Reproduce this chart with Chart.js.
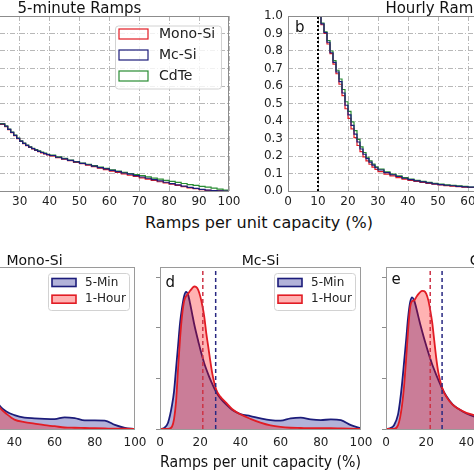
<!DOCTYPE html>
<html><head><meta charset="utf-8">
<script src="https://cdn.jsdelivr.net/npm/chart.js@4.4.1/dist/chart.umd.min.js"></script>
<style>
html,body{margin:0;padding:0;width:474px;height:474px;overflow:hidden;background:#fff;position:relative;font-family:'DejaVu Sans';}
canvas{position:absolute;}
#xlabTop{position:absolute;left:259px;top:215px;transform:translateX(-50%);font:16px/16px 'DejaVu Sans';color:#111;white-space:nowrap;}
</style></head>
<body>
<div id="xlabTop">Ramps per unit capacity (%)</div>
<script>
// ---------- DATA ----------
const seriesNames = ['Mono-Si', 'Mc-Si', 'CdTe'];
const kdeNames = ['5-Min', '1-Hour'];
const xAxisLabel = 'Ramps per unit capacity (%)';

// Top left: 5-minute ramps, exceedance (step) curves
const ramp5X = [2,4,6,8,10,12,14,16,18,20,22,23,24,25,26,27,28,29,30,31,32,33,34,35,36,37,38,39,40,42,44,46,48,50,52,54,56,58,60,62,64,66,68,70,72,74,76,78,80,82,84,86,88,90,92,94,96,98,100];
const monoSi5 = [1.0,0.93,0.84,0.76,0.69,0.62,0.56,0.51,0.47,0.43,0.40,0.381,0.381,0.368,0.35,0.333,0.316,0.299,0.283,0.27,0.259,0.249,0.24,0.232,0.225,0.218,0.212,0.206,0.201,0.191,0.182,0.173,0.164,0.156,0.148,0.139,0.131,0.122,0.113,0.106,0.098,0.09,0.083,0.075,0.068,0.061,0.053,0.046,0.039,0.032,0.025,0.018,0.013,0.008,0.004,0.002,0.001,0,0];
const mcSi5   = [1.0,0.93,0.84,0.76,0.69,0.62,0.56,0.51,0.47,0.43,0.40,0.383,0.383,0.37,0.352,0.335,0.318,0.301,0.285,0.272,0.261,0.251,0.242,0.234,0.227,0.22,0.214,0.208,0.203,0.193,0.184,0.175,0.166,0.158,0.15,0.142,0.134,0.126,0.118,0.111,0.103,0.096,0.088,0.08,0.073,0.065,0.058,0.05,0.042,0.035,0.028,0.021,0.015,0.009,0.005,0.002,0.0005,0,0];
const cdTe5   = [1.0,0.93,0.845,0.765,0.695,0.625,0.565,0.515,0.475,0.435,0.405,0.385,0.385,0.372,0.354,0.337,0.32,0.303,0.287,0.274,0.263,0.253,0.244,0.236,0.229,0.222,0.216,0.21,0.205,0.195,0.186,0.177,0.168,0.16,0.153,0.145,0.137,0.129,0.121,0.114,0.107,0.1,0.094,0.088,0.081,0.074,0.068,0.061,0.055,0.049,0.043,0.037,0.032,0.027,0.022,0.016,0.011,0.005,0];

// Top right: hourly ramps
const rampHX = [10,11,12,13,14,15,16,17,18,19,20,21,22,23,24,25,26,27,28,29,30,32,34,36,38,40,42,44,46,48,50,52,54,56,58,60,65,70,75,80,85,90,95,100];
const monoSiH = [1.0,0.95,0.9,0.84,0.785,0.725,0.67,0.61,0.545,0.47,0.415,0.355,0.305,0.26,0.225,0.195,0.172,0.153,0.137,0.123,0.111,0.097,0.086,0.077,0.068,0.061,0.055,0.049,0.044,0.039,0.035,0.031,0.028,0.025,0.022,0.02,0.016,0.012,0.009,0.007,0.005,0.003,0.001,0];
const mcSiH   = [1.0,0.955,0.905,0.85,0.79,0.735,0.68,0.625,0.56,0.49,0.435,0.375,0.325,0.28,0.24,0.21,0.185,0.165,0.148,0.133,0.12,0.105,0.093,0.083,0.073,0.065,0.058,0.052,0.046,0.041,0.037,0.033,0.03,0.027,0.024,0.022,0.017,0.013,0.01,0.008,0.006,0.004,0.002,0];
const cdTeH   = [1.0,0.96,0.91,0.86,0.80,0.745,0.69,0.64,0.58,0.51,0.455,0.395,0.345,0.295,0.252,0.22,0.193,0.172,0.154,0.138,0.125,0.109,0.097,0.087,0.077,0.068,0.061,0.055,0.049,0.044,0.039,0.035,0.032,0.029,0.026,0.023,0.018,0.014,0.011,0.009,0.007,0.004,0.002,0];
const hourlyThreshold = 10;

// Bottom: density curves
const kdeX = [0,2,4,6,7,8,9,10,11,12,13,14,15,16,17,18,19,20,21,22,23,24,25,26,28,30,33,36,40,45,50,55,60,65,70,75,80,85,90,95,100];
const monoSi5Min  = [0,0.0004,0.0026,0.0097,0.0152,0.0242,0.0332,0.042,0.048,0.0523,0.054,0.0528,0.0494,0.0455,0.0416,0.0382,0.035,0.032,0.029,0.0263,0.024,0.0219,0.02,0.0182,0.015,0.0125,0.0089,0.0069,0.0055,0.0045,0.0042,0.004,0.0039,0.0046,0.0043,0.0034,0.0034,0.0033,0.0016,0.0004,0];
const monoSi1Hour = [0,0,0,0.001,0.004,0.011,0.024,0.036,0.045,0.0505,0.0525,0.0535,0.0546,0.0556,0.0562,0.056,0.0548,0.0522,0.0487,0.044,0.0378,0.032,0.0265,0.0215,0.0148,0.0118,0.0082,0.006,0.0037,0.0027,0.0021,0.0015,0.0011,0.0006,0.0005,0.0004,0.0003,0.0002,0.0001,0.0001,0];
const mcSi5Min    = [0,0.0004,0.0025,0.0095,0.015,0.024,0.033,0.042,0.048,0.0525,0.0542,0.053,0.0495,0.0455,0.0415,0.038,0.0348,0.0316,0.0287,0.026,0.0237,0.0216,0.0196,0.0178,0.0145,0.0122,0.0096,0.0075,0.0059,0.0051,0.0042,0.0035,0.0033,0.0042,0.0045,0.0038,0.0035,0.0038,0.0035,0.0015,0.0002];
const mcSi1Hour   = [0,0,0,0.001,0.004,0.011,0.024,0.036,0.045,0.0505,0.0525,0.0535,0.0546,0.0556,0.0563,0.0561,0.055,0.0525,0.049,0.0445,0.038,0.0325,0.027,0.022,0.0155,0.0128,0.0103,0.0078,0.0058,0.004,0.0025,0.0014,0.0008,0.0005,0.0004,0.0003,0.0003,0.0003,0.0002,0.0001,0];
const cdTe5Min    = [0,0.0003,0.0015,0.0058,0.011,0.018,0.0265,0.035,0.044,0.05,0.052,0.0508,0.048,0.0447,0.0415,0.0385,0.0357,0.033,0.0303,0.0278,0.0255,0.0234,0.0214,0.0195,0.0158,0.013,0.0098,0.008,0.0061,0.0046,0.0038,0.0033,0.0033,0.0038,0.0036,0.003,0.0028,0.0028,0.0018,0.0006,0.0001];
const cdTe1Hour   = [0,0,0,0.0015,0.0045,0.0095,0.017,0.0275,0.039,0.048,0.0505,0.0508,0.052,0.0532,0.0541,0.0546,0.0545,0.0535,0.051,0.047,0.042,0.035,0.028,0.0225,0.0162,0.0128,0.0097,0.008,0.0064,0.0052,0.0038,0.0025,0.0015,0.0009,0.0006,0.0004,0.0003,0.0003,0.0002,0.0001,0];
const mean5Min  = [27.8, 27.7, 27.9];   // Mono-Si, Mc-Si, CdTe
const mean1Hour = [21.5, 21.3, 22.0];

// ---------- STYLE ----------
const RED = 'rgb(226,28,36)', NAVY = 'rgb(28,28,122)', GREEN = 'rgb(40,140,50)';
const FILL_NAVY = 'rgba(0,0,128,0.3)', FILL_RED = 'rgba(255,0,0,0.3)';
const FONT = "'DejaVu Sans'";
Chart.defaults.font.family = FONT;
Chart.defaults.color = '#222';
Chart.defaults.animation = false;

const pts = (xs, ys) => xs.map((x, i) => ({x, y: ys[i]}));
const vline = (x, y1) => [{x, y: 0}, {x, y: y1}];
const fixW = w => s => { s.width = w; s.paddingTop = s.paddingBottom = s.paddingLeft = s.paddingRight = 0; };
const fixH = h => s => { s.height = h; s.paddingTop = s.paddingBottom = s.paddingLeft = s.paddingRight = 0; };

function placeCanvas(g) {
  const c = document.createElement('canvas');
  const w = Math.round(g.r - g.l + g.yw + g.padR);
  const h = Math.round(g.b - g.t + g.padT + g.xh);
  c.width = w; c.height = h;
  c.style.left = (g.l - g.yw) + 'px';
  c.style.top = (g.t - g.padT) + 'px';
  c.style.width = w + 'px'; c.style.height = h + 'px';
  document.body.appendChild(c);
  return c;
}

function decor(d) {
  return {
    id: 'decor',
    afterDraw(chart) {
      const {ctx, chartArea: a} = chart;
      ctx.save();
      ctx.strokeStyle = d.frame; ctx.lineWidth = 1;
      ctx.strokeRect(a.left + 0.5, a.top + 0.5, a.right - a.left - 1, a.bottom - a.top);
      ctx.fillStyle = '#111';
      ctx.font = d.titleSize + 'px ' + FONT;
      ctx.textAlign = 'center'; ctx.textBaseline = 'alphabetic';
      ctx.fillText(d.title, (a.left + a.right) / 2, a.top - d.titleGap);
      ctx.font = d.letterSize + 'px ' + FONT;
      ctx.textAlign = 'left';
      const m = ctx.measureText(d.letter);
      ctx.fillText(d.letter, a.left + d.letterDx, a.top + d.letterDy + m.actualBoundingBoxAscent);
      const L = d.legend;
      if (L) {
        const x0 = a.right - L.fromRight, y0 = a.top + L.fromTop;
        ctx.beginPath();
        ctx.roundRect(x0 + 0.5, y0 + 0.5, L.w, L.h, 3);
        ctx.fillStyle = 'rgba(255,255,255,0.8)'; ctx.fill();
        ctx.strokeStyle = '#d2d2d2'; ctx.lineWidth = 1; ctx.stroke();
        const items = chart.data.datasets.filter(ds => ds.inLegend).sort((p, q) => p.legendIndex - q.legendIndex);
        items.forEach((ds, i) => {
          const cy = y0 + L.row0 + i * L.dy;
          const px = x0 + L.patchDx;
          if (ds.fill) { ctx.fillStyle = ds.backgroundColor; ctx.fillRect(px, cy - L.ph / 2, L.pw, L.ph); }
          ctx.strokeStyle = ds.borderColor; ctx.lineWidth = L.patchLw;
          ctx.strokeRect(px, cy - L.ph / 2, L.pw, L.ph);
          ctx.fillStyle = '#222'; ctx.font = L.font + 'px ' + FONT;
          ctx.textAlign = 'left'; ctx.textBaseline = 'middle';
          ctx.fillText(ds.label, x0 + L.textDx, cy);
        });
      }
      ctx.restore();
    }
  };
}

// ---------- TOP ROW ----------
const topLegend = {fromRight: 114, fromTop: 9.5, w: 106, h: 63, patchDx: 4, pw: 29, ph: 10, patchLw: 1.2, row0: 8.5, dy: 21, textDx: 44, font: 14};
function topChart(g, title, letter, xs, ys, extra) {
  const dsets = [
    {label: seriesNames[0], data: pts(xs, ys[0]), borderColor: RED, order: 3, legendIndex: 0},
    {label: seriesNames[1], data: pts(xs, ys[1]), borderColor: NAVY, order: 1, legendIndex: 1},
    {label: seriesNames[2], data: pts(xs, ys[2]), borderColor: GREEN, order: 2, legendIndex: 2}
  ].map(d => Object.assign(d, {stepped: true, fill: false, borderWidth: 1.2, pointRadius: 0, inLegend: !!g.legend}));
  if (extra) dsets.push(extra);
  const gridCommon = {color: '#b8b8b8', lineWidth: 1, drawTicks: false};
  const borderCommon = {display: false, dash: [5, 2, 1, 2]};
  return new Chart(placeCanvas(g), {
    type: 'line',
    data: {datasets: dsets},
    options: {
      responsive: false, animation: false,
      layout: {padding: {left: 0, right: g.padR, top: g.padT, bottom: 0}},
      plugins: {legend: {display: false}, tooltip: {enabled: false}},
      scales: {
        x: {type: 'linear', min: 0, max: 100,
            ticks: {stepSize: 10, padding: 4, font: {size: 12}, color: '#222', maxRotation: 0, autoSkip: false},
            grid: gridCommon, border: borderCommon, afterFit: fixH(g.xh)},
        y: {type: 'linear', min: 0, max: 1,
            ticks: {stepSize: 0.1, padding: 5, font: {size: 12}, color: '#222', callback: v => v.toFixed(1)},
            grid: gridCommon, border: borderCommon, afterFit: fixW(g.yw)}
      }
    },
    plugins: [decor({frame: '#8c8c8c', title, titleSize: 15, titleGap: 3.5, letter, letterSize: 15, letterDx: 7, letterDy: 4,
      legend: g.legend ? topLegend : null})]
  });
}

const gA = {l: -70, r: 229, t: 16, b: 191, yw: 34, xh: 24, padR: 14, padT: 20, legend: true};
const gB = {l: 288, r: 588, t: 16, b: 191, yw: 34, xh: 24, padR: 14, padT: 20, legend: false};
topChart(gA, '5-minute Ramps', 'a', ramp5X, [monoSi5, mcSi5, cdTe5]);
topChart(gB, 'Hourly Ramps', 'b', rampHX, [monoSiH, mcSiH, cdTeH],
  {label: 'threshold', data: vline(hourlyThreshold, 1), borderColor: '#000', borderWidth: 2, borderDash: [2, 2], pointRadius: 0, fill: false, order: -1});

// ---------- BOTTOM ROW ----------
const botLegend = {fromRight: 87, fromTop: 6, w: 81, h: 37, patchDx: 4, pw: 24, ph: 8, patchLw: 1.6, row0: 9.5, dy: 16.7, textDx: 37, font: 12};
const YMAX = 0.064;
function kdeChart(g, title, letter, letterDy, y5, y1, m5, m1, showXTitle) {
  return new Chart(placeCanvas(g), {
    type: 'line',
    data: {datasets: [
      {label: kdeNames[0], data: pts(kdeX, y5), borderColor: NAVY, backgroundColor: FILL_NAVY, fill: 'origin', borderWidth: 1.8,
       pointRadius: 0, cubicInterpolationMode: 'monotone', order: 3, inLegend: true, legendIndex: 0},
      {label: kdeNames[1], data: pts(kdeX, y1), borderColor: RED, backgroundColor: FILL_RED, fill: 'origin', borderWidth: 1.8,
       pointRadius: 0, cubicInterpolationMode: 'monotone', order: 2, inLegend: true, legendIndex: 1},
      {label: 'mean 1-Hour', data: vline(m1, YMAX), borderColor: 'rgb(205,50,70)', borderWidth: 1.5, borderDash: [4, 3], pointRadius: 0, fill: false, order: 1},
      {label: 'mean 5-Min', data: vline(m5, YMAX), borderColor: 'rgb(40,40,130)', borderWidth: 1.5, borderDash: [4, 3], pointRadius: 0, fill: false, order: 0}
    ]},
    options: {
      responsive: false, animation: false,
      layout: {padding: {left: 0, right: g.padR, top: g.padT, bottom: 0}},
      plugins: {legend: {display: false}, tooltip: {enabled: false}},
      scales: {
        x: {type: 'linear', min: 0, max: 100,
            ticks: {stepSize: 20, padding: 7, font: {size: 12}, color: '#222', maxRotation: 0, autoSkip: false},
            grid: {display: false, drawTicks: false}, border: {display: false},
            title: {display: showXTitle, text: xAxisLabel, font: {size: 16}, color: '#111', padding: {top: 0, bottom: 2}},
            afterFit: fixH(g.xh)},
        y: {type: 'linear', min: 0, max: YMAX,
            ticks: {display: false, stepSize: 0.02, includeBounds: false},
            grid: {display: true, drawOnChartArea: false, drawTicks: true, tickLength: 4, tickColor: '#8c8c8c', tickWidth: 1},
            border: {display: false}, afterFit: fixW(g.yw)}
      }
    },
    plugins: [decor({frame: '#9a9a9a', title, titleSize: 14, titleGap: 2.5, letter, letterSize: 15, letterDx: 5.5, letterDy: letterDy, legend: botLegend})]
  });
}
const gC = {l: -66, r: 135, t: 267, b: 429, yw: 8, xh: 45, padR: 14, padT: 20};
const gD = {l: 160, r: 361, t: 267, b: 429, yw: 8, xh: 45, padR: 14, padT: 20};
const gE = {l: 385.5, r: 586.5, t: 267, b: 429, yw: 8, xh: 45, padR: 14, padT: 20};
kdeChart(gC, seriesNames[0], 'c', 8, monoSi5Min, monoSi1Hour, mean5Min[0], mean1Hour[0], false);
kdeChart(gD, seriesNames[1], 'd', 8, mcSi5Min, mcSi1Hour, mean5Min[1], mean1Hour[1], true);
kdeChart(gE, seriesNames[2], 'e', 8, cdTe5Min, cdTe1Hour, mean5Min[2], mean1Hour[2], false);
</script>
</body></html>
